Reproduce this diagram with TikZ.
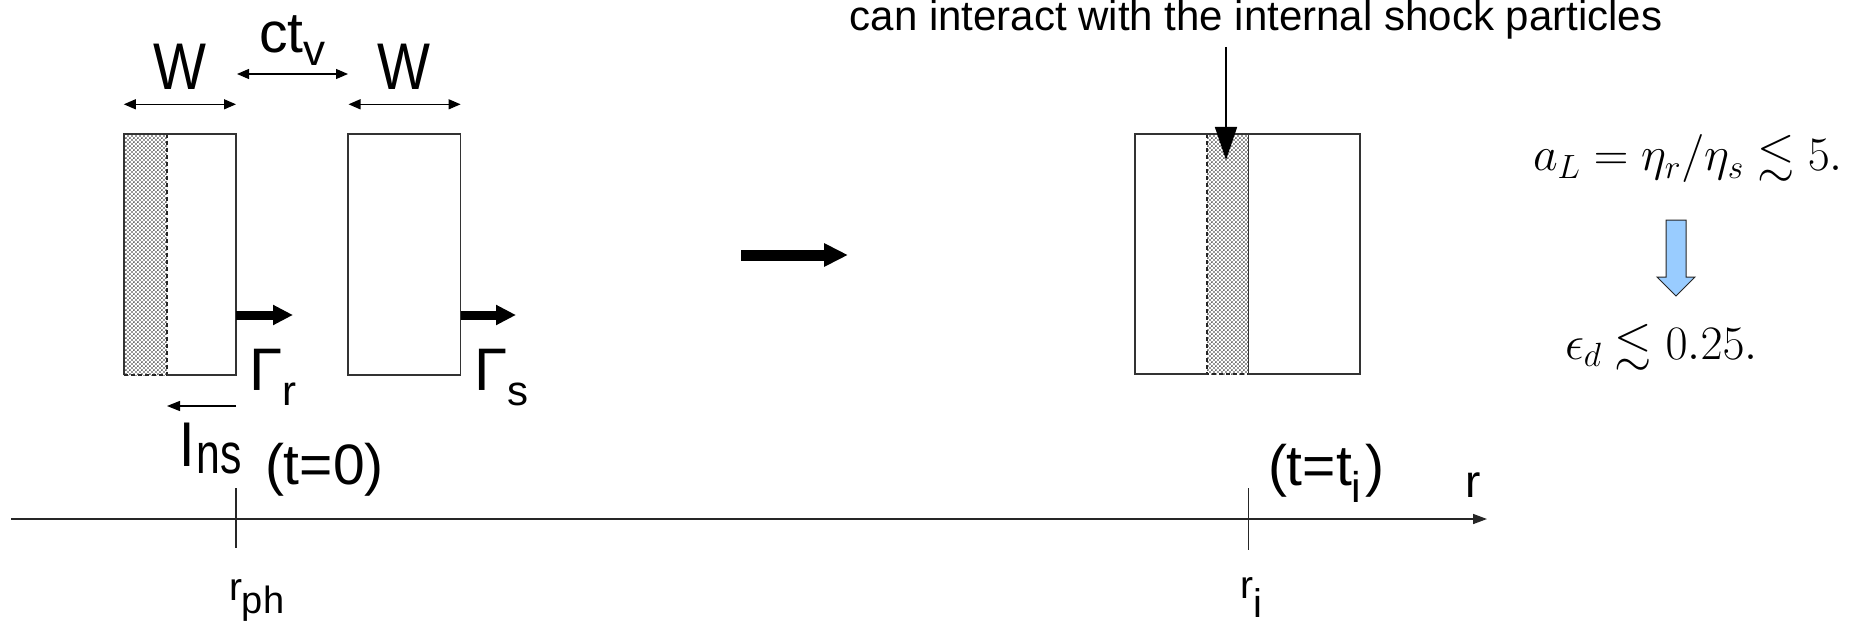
\RequirePackage{fix-cm}
\documentclass[tikz,border=0pt]{standalone}
\usepackage{amssymb}
\usepackage{graphicx}
\usepackage[no-math]{fontspec}
\setmainfont{Liberation Sans}
\usetikzlibrary{arrows.meta,patterns}
\pgfdeclarepatternformonly{mydots}{\pgfqpoint{0pt}{0pt}}{\pgfqpoint{4.4pt}{4.4pt}}{\pgfqpoint{4.4pt}{4.4pt}}{%
  \pgfpathcircle{\pgfqpoint{1.1pt}{1.1pt}}{1pt}%
  \pgfpathcircle{\pgfqpoint{3.3pt}{3.3pt}}{1pt}%
  \pgfusepath{fill}}
\newcommand{\lowsub}[3]{\raisebox{-#1pt}{\fontsize{#2}{#2}\selectfont #3}}
\definecolor{blockblue}{RGB}{153,204,255}
\tikzset{
  boxline/.style={draw=black!80, line width=1.5pt},
  stripfill/.style={pattern=mydots, pattern color=black!80},
  stripdash/.style={draw=black!85, line width=1.6pt, dash pattern=on 4pt off 3pt},
  dimarrow/.style={line width=1.3pt, {Triangle[length=12pt,width=10pt]}-{Triangle[length=12pt,width=10pt]}},
  thinarrow/.style={line width=1.3pt, -{Triangle[length=13pt,width=10pt]}},
  thickarrow/.style={line width=9pt, -{Triangle[length=20pt,width=19pt]}},
  bigarrow/.style={line width=11pt, -{Triangle[length=24pt,width=22pt]}},
  downarrow/.style={line width=1.5pt, -{Triangle[length=33pt,width=22pt]}},
  axisline/.style={draw=black!85, line width=1.5pt},
  lbl/.style={inner sep=0pt, outer sep=0pt, font=\fontsize{60}{62}\selectfont},
  toptext/.style={inner sep=0pt, outer sep=0pt, font=\fontsize{42}{44}\selectfont},
  eqn/.style={inner sep=0pt, outer sep=0pt, font=\fontsize{48}{50}\selectfont},
}
\begin{document}
\begin{tikzpicture}[x=1pt,y=-1pt]
\useasboundingbox[fill=white] (0,0) rectangle (1860,623);

% ---------- left shell (with dotted strip) ----------
\fill[stripfill] (123.8,134) rectangle (167,375);
\draw[stripdash] (167,134) -- (167,375) -- (123.8,375);
\draw[boxline] (167,375) -- (236,375) -- (236,134) -- (123.8,134) -- (123.8,375);

% ---------- second shell ----------
\draw[boxline] (348,134) rectangle (460.6,375);

% ---------- merged shell ----------
\fill[stripfill] (1207,134) rectangle (1248.6,374);
\draw[stripdash] (1207,134) -- (1207,374) -- (1248.6,374);
\draw[boxline] (1207,374) -- (1135,374) -- (1135,134) -- (1360,134) -- (1360,374) -- (1248.6,374) -- (1248.6,134);

% ---------- coordinates ----------
\coordinate (wlA) at (123.8,104.3);
\coordinate (wlB) at (236,104.3);
\coordinate (wrA) at (348.5,104.3);
\coordinate (wrB) at (460.6,104.3);
\coordinate (ctA) at (237,74);
\coordinate (ctB) at (348,74);
\coordinate (t1A) at (236,315);
\coordinate (t1B) at (293,315);
\coordinate (t2A) at (460.6,315);
\coordinate (t2B) at (516,315);
\coordinate (lnA) at (236,406);
\coordinate (lnB) at (167,406);
\coordinate (midA) at (741,255);
\coordinate (midB) at (848,255);
\coordinate (vA) at (1226,47);
\coordinate (vB) at (1226,160);
\coordinate (axA) at (11,519);
\coordinate (axB) at (1487,519);
\coordinate (k1A) at (236,488);
\coordinate (k1B) at (236,548);
\coordinate (k2A) at (1248.6,488);
\coordinate (k2B) at (1248.6,550);

% ---------- arrows ----------
\draw[dimarrow] (wlA) -- (wlB);
\draw[dimarrow] (wrA) -- (wrB);
\draw[dimarrow] (ctA) -- (ctB);
\draw[thickarrow] (t1A) -- (t1B);
\draw[thickarrow] (t2A) -- (t2B);
\draw[thinarrow] (lnA) -- (lnB);
\draw[bigarrow] (midA) -- (midB);
\draw[downarrow] (vA) -- (vB);

% ---------- axis ----------
\draw[axisline, -{Triangle[length=14pt,width=10pt]}] (axA) -- (axB);
\draw[axisline] (k1A) -- (k1B);
\draw[axisline] (k2A) -- (k2B);

% ---------- labels ----------
\node[lbl, anchor=base, font=\fontsize{66}{68}\selectfont] (Wl) at (180,90) {\scalebox{0.85}[1]{W}};
\node[lbl, anchor=base, font=\fontsize{66}{68}\selectfont] (Wr) at (404,90) {\scalebox{0.85}[1]{W}};
\node[lbl, anchor=base west, font=\fontsize{57}{59}\selectfont] (ctv) at (259,53) {ct\lowsub{13}{44}{v}};
\node[lbl, anchor=base west] (Gr) at (249,390) {Γ\lowsub{15}{42}{r}};
\node[lbl, anchor=base west] (Gs) at (474,390) {Γ\lowsub{15}{42}{s}};
\node[lbl, anchor=base west] (lns) at (180,466) {l\hspace{3pt}\lowsub{7}{57}{\scalebox{0.75}[1]{ns}}};
\node[lbl, anchor=base west, font=\fontsize{57}{59}\selectfont] (t0) at (265,484) {(t=0)};
\node[lbl, anchor=base west, font=\fontsize{57}{59}\selectfont] (tti) at (1268,485) {(t=t\lowsub{17}{43}{i}\hspace{4pt})};
\node[lbl, anchor=base west, font=\fontsize{46}{48}\selectfont] (rlab) at (1465,497) {r};
\node[lbl, anchor=base west, font=\fontsize{39}{41}\selectfont] (rph) at (229,600) {r\lowsub{13}{38}{ph}};
\node[lbl, anchor=base west, font=\fontsize{39}{41}\selectfont] (ri) at (1240,598) {r\lowsub{19}{40}{i}};

\node[toptext, anchor=base] (note) at (1256,31) {can interact with the internal shock particles};

% ---------- equations ----------
\node[eqn, anchor=base west] (eq1) at (1533,171) {$a_L = \eta_r/\eta_s \lesssim 5.$};
\node[eqn, anchor=base west] (eq2) at (1565,359) {$\epsilon_d \lesssim 0.25.$};
\draw[fill=blockblue, draw=black!85, line width=1pt]
  (1666,220) -- (1686,220) -- (1686,277) -- (1695,277) -- (1676,296) -- (1657,277) -- (1666,277) -- cycle;
\end{tikzpicture}
\end{document}
